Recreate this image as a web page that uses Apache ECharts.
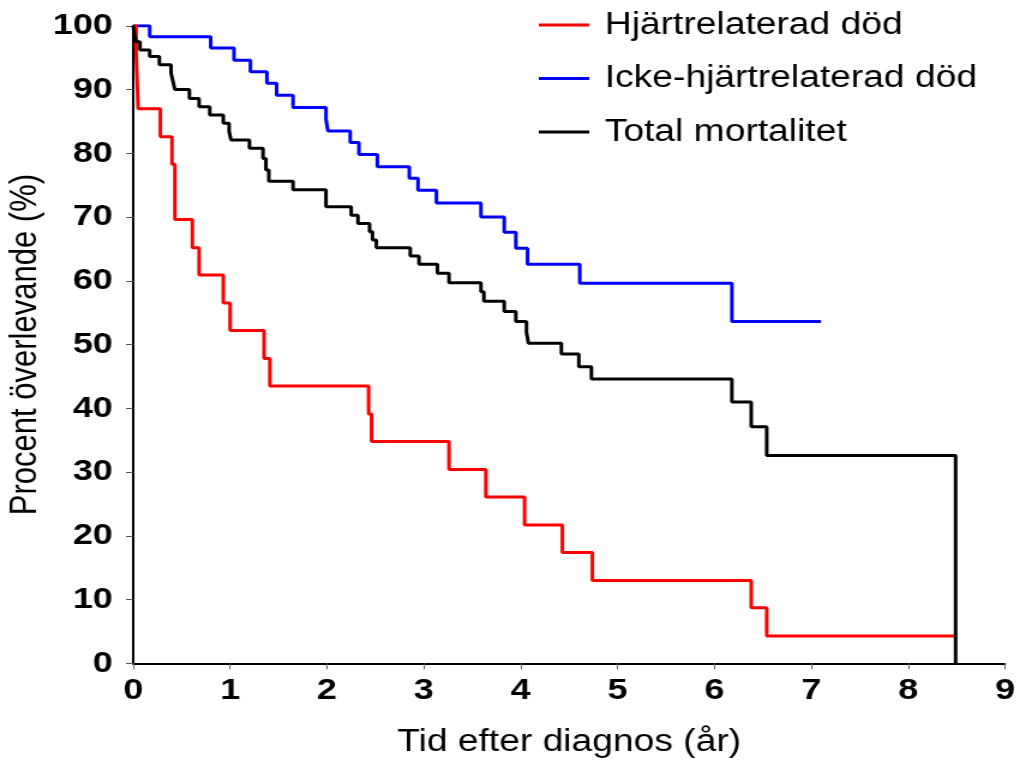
<!DOCTYPE html>
<html>
<head>
<meta charset="utf-8">
<script src="https://cdn.jsdelivr.net/npm/echarts@6/dist/echarts.min.js"></script>
<style>
html,body{margin:0;padding:0;background:#fff;overflow:hidden;}
/* the reference is a horizontally stretched picture, so the chart is drawn narrower and stretched */
#chart{width:848px;height:760px;transform:scaleX(1.2);transform-origin:0 0;}
</style>
</head>
<body>
<div id="chart"></div>
<script>
// Kaplan-Meier steps: time (år) and survival (%) after each step
var seriesNames = ['Hjärtrelaterad död', 'Icke-hjärtrelaterad död', 'Total mortalitet'];

var heartT = [0, 0.03, 0.05, 0.28, 0.40, 0.43, 0.61, 0.68, 0.93, 1.00, 1.35, 1.41, 2.43, 2.46, 3.26, 3.64, 4.04, 4.43, 4.74, 6.38, 6.54, 8.48];
var heartS = [100, 95.7, 87.0, 82.6, 78.3, 69.6, 65.2, 60.9, 56.5, 52.2, 47.8, 43.5, 39.1, 34.8, 30.4, 26.1, 21.7, 17.4, 13.0, 8.7, 4.3, 4.3];

var otherT = [0, 0.17, 0.80, 1.04, 1.21, 1.38, 1.48, 1.65, 1.99, 2.01, 2.24, 2.33, 2.52, 2.85, 2.94, 3.13, 3.59, 3.83, 3.95, 4.07, 4.61, 6.18, 7.10];
var otherS = [100, 98.3, 96.5, 94.6, 92.8, 91.0, 89.1, 87.2, 85.3, 83.5, 81.7, 79.8, 77.9, 76.1, 74.2, 72.2, 70.0, 67.6, 65.1, 62.6, 59.6, 53.6, 53.6];

var totalT = [0, 0.01, 0.03, 0.07, 0.17, 0.27, 0.39, 0.41, 0.43, 0.58, 0.68, 0.79, 0.93, 0.99, 1.01, 1.20, 1.34, 1.37, 1.40, 1.65, 1.99, 2.25, 2.32, 2.44, 2.47, 2.51, 2.86, 2.95, 3.14, 3.26, 3.59, 3.62, 3.83, 3.95, 4.06, 4.08, 4.42, 4.60, 4.73, 6.18, 6.38, 6.54, 8.49];
var totalS = [100, 98.8, 97.5, 96.2, 95.2, 93.9, 92.6, 91.3, 90.0, 88.6, 87.3, 86.0, 84.7, 83.4, 82.1, 80.8, 79.2, 77.4, 75.6, 74.3, 71.6, 70.3, 69.0, 67.7, 66.4, 65.2, 63.9, 62.6, 61.2, 59.7, 58.3, 56.8, 55.2, 53.6, 51.9, 50.2, 48.5, 46.5, 44.6, 41.0, 37.1, 32.6, 0];

var colors = ['#ff0000', '#0000ff', '#000000'];

function pairs(t, s){
	var out = [];
	for(var i=0;i<t.length;i++){
		out.push([t[i], s[i]]);
	}
	return out;
}

var fontFam = '"Liberation Sans", Arial, sans-serif';
var myChart = echarts.init(document.getElementById('chart'));

var option = {
	animation: false,
	backgroundColor: '#fff',
	color: colors,
	grid: {left: 111, right: 10.5, top: 25.8, bottom: 96.7, containLabel: false, outerBoundsMode: 'none'},
	legend: {
		orient: 'vertical',
		left: 444,
		top: 3,
		itemWidth: 42,
		itemHeight: 3,
		itemGap: 19.5,
		icon: 'rect',
		textStyle: {fontFamily: fontFam, fontSize: 31, color: '#000', lineHeight: 34, padding: [0, 0, 0, 8]},
		data: seriesNames
	},
	xAxis: {
		type: 'value',
		min: 0,
		max: 9,
		interval: 1,
		name: 'Tid efter diagnos (år)',
		nameLocation: 'middle',
		nameGap: 64,
		nameMoveOverlap: false,
		nameTextStyle: {fontFamily: fontFam, fontSize: 31, color: '#000'},
		axisLine: {lineStyle: {color: '#000', width: 2}},
		axisTick: {show: true, length: 6, lineStyle: {color: '#666', width: 1}},
		axisLabel: {fontFamily: fontFam, fontSize: 30, fontWeight: 'bold', color: '#000', margin: 12},
		splitLine: {show: false}
	},
	yAxis: {
		type: 'value',
		min: 0,
		max: 100,
		interval: 10,
		name: 'Procent överlevande (%)',
		nameLocation: 'middle',
		nameGap: 74,
		nameMoveOverlap: false,
		nameTextStyle: {fontFamily: fontFam, fontSize: 31, color: '#000'},
		axisLine: {show: true, lineStyle: {color: '#000', width: 2}},
		axisTick: {show: true, length: 6, lineStyle: {color: '#555', width: 1}},
		axisLabel: {fontFamily: fontFam, fontSize: 30, fontWeight: 'bold', color: '#000', margin: 17},
		splitLine: {show: false}
	},
	series: [
		{name: seriesNames[0], type: 'line', step: 'end', symbol: 'none', data: pairs(heartT, heartS), lineStyle: {width: 3, color: colors[0]}, z: 3},
		{name: seriesNames[1], type: 'line', step: 'end', symbol: 'none', data: pairs(otherT, otherS), lineStyle: {width: 3, color: colors[1]}, z: 2},
		{name: seriesNames[2], type: 'line', step: 'end', symbol: 'none', data: pairs(totalT, totalS), lineStyle: {width: 3, color: colors[2]}, z: 4}
	]
};
myChart.setOption(option);
</script>
</body>
</html>
